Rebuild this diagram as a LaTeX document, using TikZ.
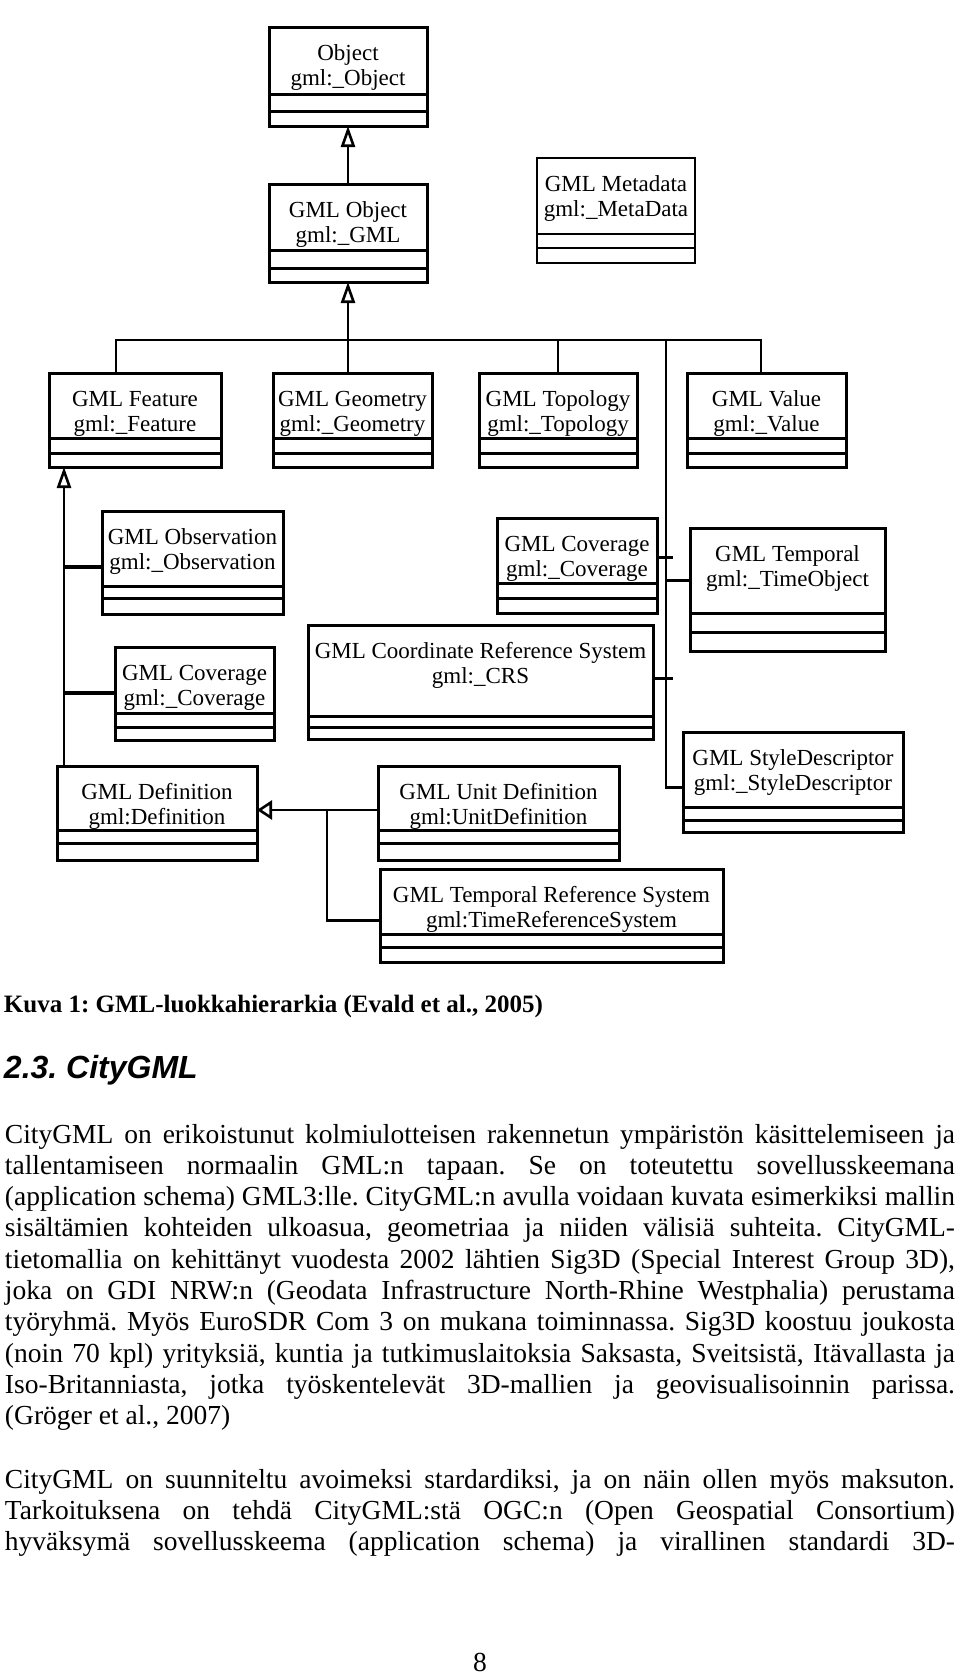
\documentclass[tikz,border=0pt]{standalone}
\usepackage{fontspec}
\setmainfont{Liberation Serif}
\newfontfamily\headfont{Liberation Sans}
\usetikzlibrary{arrows.meta, positioning}
\frenchspacing
\newcommand{\boxfont}{\fontsize{23}{25}\selectfont}
\newcommand{\bodyfont}{\fontsize{27.5}{31.3}\selectfont\frenchspacing}
\newcommand{\cname}[2]{\begin{tabular}[t]{@{}c@{}}#1\\#2\end{tabular}}
\newcommand{\jline}[1]{\makebox[950pt][s]{#1}}
% the two empty compartments under a class box
\newcommand{\comps}[4][clsline]{%
  \draw[#1] (#2.south west) rectangle ([yshift=-#3pt]#2.south east);
  \draw[#1] ([yshift=-#3pt]#2.south west) rectangle ([yshift=-#4pt]#2.south east);
  \coordinate (#2-b) at ([yshift=-#4pt]#2.south);}

\begin{document}
\begin{tikzpicture}[
  x=1pt, y=-1pt,
  cls/.style={draw, line width=3pt, fill=white, inner sep=0pt, outer sep=0pt, anchor=north west, font=\boxfont, text height=33pt, text depth={#1pt-33pt}},
  cls/.default=66,
  clsline/.style={line width=3pt},
  thinline/.style={line width=2.2pt},
  conn/.style={line width=2.6pt},
  stub/.style={line width=4pt},
  inh/.style={conn, -{Triangle[open, length=21pt, width=14pt]}},
  txt/.style={anchor=base west, inner sep=0pt, outer sep=0pt},
]
\path[use as bounding box, fill=white] (0,0) rectangle (960,1676);

% top of the hierarchy
\node[cls=67, minimum width=158pt] (obj) at (269,27) {\cname{Object}{gml:\_Object}};
\comps{obj}{17}{32}
\node[cls=66, minimum width=158pt] (gmlobj) at (269,184) {\cname{GML Object}{gml:\_GML}};
\comps{gmlobj}{18}{32}
\node[cls=76, minimum width=158pt, line width=2.2pt] (meta) at (537,158) {\cname{GML Metadata}{gml:\_MetaData}};
\comps[thinline]{meta}{14}{29}

% first row
\node[cls=65, minimum width=172pt] (feat) at (49,373) {\cname{GML Feature}{gml:\_Feature}};
\comps{feat}{15}{29}
\node[cls=65, minimum width=159pt, right=52pt of feat.north east, anchor=north west] (geom) {\cname{GML Geometry}{gml:\_Geometry}};
\comps{geom}{15}{29}
\node[cls=65, minimum width=158pt, right=47pt of geom.north east, anchor=north west] (topo) {\cname{GML Topology}{gml:\_Topology}};
\comps{topo}{15}{29}
\node[cls=65, minimum width=159pt, right=50pt of topo.north east, anchor=north west] (value) {\cname{GML Value}{gml:\_Value}};
\comps{value}{15}{29}

% lower classes
\node[cls=75, minimum width=181pt] (obs) at (102,511) {\cname{GML Observation}{gml:\_Observation}};
\comps{obs}{12}{28}
\node[cls=65, minimum width=160pt] (covr) at (497,518) {\cname{GML Coverage}{gml:\_Coverage}};
\comps{covr}{15}{30}
\node[cls=85, minimum width=195pt] (temp) at (690,528) {\cname{GML Temporal}{gml:\_TimeObject}};
\comps{temp}{19}{38}
\node[cls=91, minimum width=345pt] (crs) at (308,625) {\cname{GML Coordinate Reference System}{gml:\_CRS}};
\comps{crs}{11}{23}
\node[cls=66, minimum width=159pt] (covl) at (115,647) {\cname{GML Coverage}{gml:\_Coverage}};
\comps{covl}{14}{27}
\node[cls=75, minimum width=220pt] (style) at (683,732) {\cname{GML StyleDescriptor}{gml:\_StyleDescriptor}};
\comps{style}{13}{25}
\node[cls=64, minimum width=200pt] (defn) at (57,766) {\cname{GML Definition}{gml:Definition}};
\comps{defn}{13}{30}
\node[cls=64, minimum width=241pt, right=121pt of defn.north east, anchor=north west] (unit) {\cname{GML Unit Definition}{gml:UnitDefinition}};
\comps{unit}{13}{30}
\node[cls=65, minimum width=343pt] (trs) at (380,869) {\cname{GML Temporal Reference System}{gml:TimeReferenceSystem}};
\comps{trs}{13}{28}

% connectors
\coordinate (bus) at (348,340);
\coordinate (busL) at (116,340);
\coordinate (busR) at (761,340);
\coordinate (busV) at (666,340);
\coordinate (spine) at ([xshift=15pt]feat.south west);
\coordinate (obsK) at ([yshift=-18pt]obs.west);
\coordinate (covlK) at ([yshift=-13pt]covl.west);
\coordinate (covrK) at ([yshift=-7pt]covr.east);
\coordinate (tempK) at ([yshift=-10pt]temp.west);
\coordinate (crsK) at ([yshift=-8pt]crs.east);
\coordinate (styleK) at ([yshift=-18pt]style.west);
\coordinate (unitK) at ([yshift=-12pt]unit.west);
\coordinate (branch) at ([xshift=-51pt]unitK);
\coordinate (trsK) at ([yshift=-19pt]trs.west);

\draw[inh] (gmlobj.north) -- (obj-b);
\draw[inh] (bus) -- (gmlobj-b);
\draw[conn] (busL |- feat.north) -- (busL) -- (busR) -- (busR |- value.north);
\draw[conn] (bus) -- (bus |- geom.north);
\draw[conn] (topo.north |- bus) -- (topo.north);
\draw[conn] (busV) |- (styleK);
\draw[conn, shorten >=-7pt] (covrK) -- (busV |- covrK);
\draw[conn] (busV |- tempK) -- (tempK);
\draw[conn, shorten >=-7pt] (crsK) -- (busV |- crsK);
\draw[inh] (spine |- defn.north) -- (spine |- feat-b);
\draw[stub] (spine |- obsK) -- (obsK);
\draw[stub] (spine |- covlK) -- (covlK);
\draw[conn, -{Triangle[open, length=15pt, width=19pt]}] (unitK) -- (defn.east |- unitK);
\draw[conn] (branch) |- (trsK);

% text of the page
\node[txt, font=\fontsize{25}{30}\selectfont\bfseries] (caption) at (4,1012) {Kuva 1: GML-luokkahierarkia (Evald et al., 2005)};
\node[txt, font=\headfont\fontsize{32}{38}\selectfont\bfseries\itshape] (heading) at (4,1078) {2.3. CityGML};
\node[txt, font=\bodyfont] (para1) at (5,1143) {\parbox[t]{950pt}{%
\jline{CityGML on erikoistunut kolmiulotteisen rakennetun ympäristön käsittelemiseen ja}\\
\jline{tallentamiseen normaalin GML:n tapaan. Se on toteutettu sovellusskeemana}\\
\jline{(application schema) GML3:lle. CityGML:n avulla voidaan kuvata esimerkiksi mallin}\\
\jline{sisältämien kohteiden ulkoasua, geometriaa ja niiden välisiä suhteita. CityGML-}\\
\jline{tietomallia on kehittänyt vuodesta 2002 lähtien Sig3D (Special Interest Group 3D),}\\
\jline{joka on GDI NRW:n (Geodata Infrastructure North-Rhine Westphalia) perustama}\\
\jline{työryhmä. Myös EuroSDR Com 3 on mukana toiminnassa. Sig3D koostuu joukosta}\\
\jline{(noin 70 kpl) yrityksiä, kuntia ja tutkimuslaitoksia Saksasta, Sveitsistä, Itävallasta ja}\\
\jline{Iso-Britanniasta, jotka työskentelevät 3D-mallien ja geovisualisoinnin parissa.}\\
(Gröger et al., 2007)}};
\node[txt, font=\bodyfont] (para2) at (5,1488) {\parbox[t]{950pt}{%
\jline{CityGML on suunniteltu avoimeksi stardardiksi, ja on näin ollen myös maksuton.}\\
\jline{Tarkoituksena on tehdä CityGML:stä OGC:n (Open Geospatial Consortium)}\\
\jline{hyväksymä sovellusskeema (application schema) ja virallinen standardi 3D-}}};
\node[anchor=base, inner sep=0pt, font=\bodyfont] (pagenum) at (480,1671) {8};
\end{tikzpicture}
\end{document}
